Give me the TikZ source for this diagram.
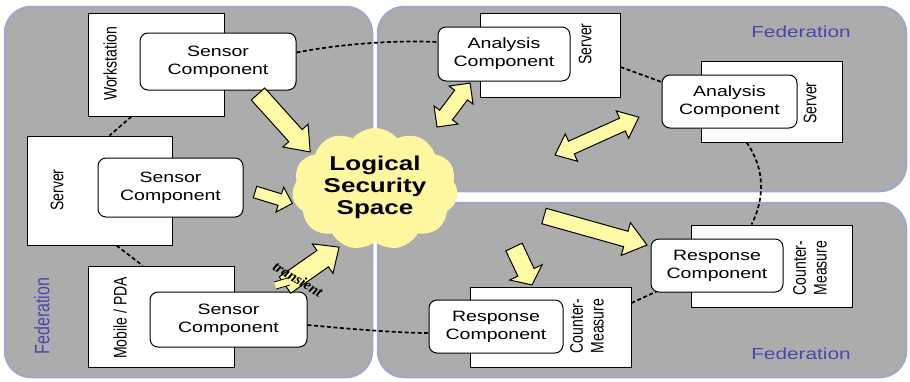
\documentclass[tikz,border=0pt]{standalone}
\usepackage{fontspec}
\setmainfont{Liberation Sans}
\newfontfamily\serifb{Liberation Serif}
\usepackage{graphicx}
\usetikzlibrary{shapes.symbols,calc}

\definecolor{panel}{RGB}{172,172,172}
\definecolor{panelrim}{RGB}{160,168,198}
\definecolor{cloudy}{RGB}{255,247,160}
\definecolor{arrowy}{RGB}{255,250,165}
\definecolor{fedblue}{RGB}{72,72,172}

\newcommand\hx[1]{\scalebox{1.3}[1]{#1}}
\newcommand\vx[1]{\scalebox{1.3}[1]{\rotatebox{90}{#1}}}
\newcommand\twol[2]{\begin{tabular}{@{}c@{}}#1\\#2\end{tabular}}

\pgfdeclarelayer{bg}
\pgfdeclarelayer{links}
\pgfsetlayers{bg,links,main}

\tikzset{
  panelbox/.style={fill=panel, draw=panelrim, line width=2.5pt, rounded corners=26pt},
  hostbox/.style={draw=black, fill=white, line width=0.9pt, inner sep=0pt},
  compbox/.style={draw=black, fill=white, line width=1pt, rounded corners=8pt, inner sep=0pt,
     font=\fontsize{15}{18}\selectfont},
  hostlabel/.style={inner sep=0pt, font=\fontsize{14}{16}\selectfont},
  fedlabel/.style={inner sep=0pt, text=fedblue, font=\fontsize{16}{18}\selectfont},
  link/.style={draw=black, line width=1.7pt, dash pattern=on 4pt off 2.5pt},
  yarrow/.style={fill=arrowy, draw=black, line width=1pt, line join=miter},
  pics/barrow/.style args={#1/#2/#3/#4}{code={
    \draw[yarrow] (0,-#3) -- ({#1-#4},-#3) -- ({#1-#4},-#2) -- (#1,0)
       -- ({#1-#4},#2) -- ({#1-#4},#3) -- (0,#3) -- cycle;}},
  pics/dbarrow/.style args={#1/#2/#3/#4}{code={
    \draw[yarrow] (0,0) -- (#4,-#2) -- (#4,-#3) -- ({#1-#4},-#3) -- ({#1-#4},-#2)
       -- (#1,0) -- ({#1-#4},#2) -- ({#1-#4},#3) -- (#4,#3) -- (#4,#2) -- cycle;}}
}

\begin{document}
\begin{tikzpicture}[x=1pt, y=-1pt]
\useasboundingbox (0,0) rectangle (910,381);

% panels
\begin{pgfonlayer}{bg}
  \fill[white] (0,0) rectangle (910,381);
  \draw[panelbox] (5,7) rectangle (372,377);
  \draw[panelbox] (378,7) rectangle (906,191);
  \draw[panelbox] (378,203) rectangle (906,377);
\end{pgfonlayer}

% hosts
\node[hostbox, minimum width=136pt, minimum height=103pt] (ws)  at (156,64.5) {};
\node[hostbox, minimum width=145pt, minimum height=109pt] (srv) at (99.5,190.5) {};
\node[hostbox, minimum width=146pt, minimum height=101pt] (mob) at (161,316.5) {};
\node[hostbox, minimum width=140pt, minimum height=84pt]  (sa1) at (550,55) {};
\node[hostbox, minimum width=141pt, minimum height=81pt]  (sa2) at (771.5,101.5) {};
\node[hostbox, minimum width=161pt, minimum height=82pt]  (cm2) at (771.5,266) {};
\node[hostbox, minimum width=161pt, minimum height=80pt]  (cm1) at (550.5,327) {};

% host labels
\node[hostlabel] (wsl)  at (110,64)  {\vx{Workstation}};
\node[hostlabel] (srvl) at (57,190)  {\vx{Server}};
\node[hostlabel] (mobl) at (120,318) {\vx{Mobile / PDA}};
\node[hostlabel] (sa1l) at (585,44)  {\vx{Server}};
\node[hostlabel] (sa2l) at (810,103) {\vx{Server}};
\node[hostlabel] (cm1l) at (589,326) {\vx{\twol{Counter-}{Measure}}};
\node[hostlabel] (cm2l) at (812,268) {\vx{\twol{Counter-}{Measure}}};

% components
\node[compbox, minimum width=156pt, minimum height=57pt] (s1) at (218,61.5)  {\hx{\twol{Sensor}{Component}}};
\node[compbox, minimum width=145pt, minimum height=59pt] (s2) at (170.5,187.5) {\hx{\twol{Sensor}{Component}}};
\node[compbox, minimum width=157pt, minimum height=55pt] (s3) at (228.5,319.5) {\hx{\twol{Sensor}{Component}}};
\node[compbox, minimum width=132pt, minimum height=54pt] (a1) at (504,54)    {\hx{\twol{Analysis}{Component}}};
\node[compbox, minimum width=135pt, minimum height=53pt] (a2) at (729.5,101.5) {\hx{\twol{Analysis}{Component}}};
\node[compbox, minimum width=132pt, minimum height=53pt] (r2) at (717,265.5) {\hx{\twol{Response}{Component}}};
\node[compbox, minimum width=134pt, minimum height=53pt] (r1) at (496,326.5) {\hx{\twol{Response}{Component}}};

% federation labels
\node[fedlabel] (f1) at (801,32)  {\hx{Federation}};
\node[fedlabel] (f2) at (801,354) {\hx{Federation}};
\node[fedlabel] (f3) at (42,316)  {\vx{Federation}};

% dashed links (underneath)
\begin{pgfonlayer}{links}
  \draw[link] ($(s1.east)+(0,-9)$) .. controls (340,44) and (395,40) .. ($(a1.west)+(0,-12)$);
  \draw[link] ($(ws.south west)+(44,0)$) -- ($(srv.north west)+(83,0)$);
  \draw[link] ($(srv.south west)+(90,0)$) -- ($(mob.north west)+(55,0)$);
  \draw[link] ($(s3.east)+(0,5.5)$) .. controls (350,329) and (400,333) .. ($(r1.west)+(0,6.5)$);
  \draw[link] ($(sa1.east)+(0,12)$) -- ($(a2.west)+(0,-19.5)$);
  \draw[link] ($(sa2.south west)+(46,0)$) .. controls (766,170) and (764,200) .. ($(cm2.north west)+(61,0)$);
  \draw[link] ($(cm1.east)+(0,-24)$) -- ($(r2.west)+(6,26)$);
\end{pgfonlayer}

% cloud
\node[cloud, cloud puffs=11, cloud puff arc=100, cloud ignores aspect,
      minimum width=166pt, minimum height=122pt, fill=cloudy, inner sep=0pt] (lss) at (375,189) {};
\node[inner sep=0pt, font=\bfseries\fontsize{20}{22}\selectfont] (lsst) at (375,188)
  {\hx{\begin{tabular}{@{}c@{}}Logical\\Security\\Space\end{tabular}}};

% block arrows
\coordinate (t1) at (258,94);
\coordinate (t2) at (255,192);
\coordinate (t3) at (285,285);
\coordinate (t4) at (437,127);
\coordinate (t5) at (555,155);
\coordinate (t6) at (544,216);
\coordinate (t7) at (514,247);
\pic[rotate=-48]   at (t1) {barrow=78/17/9/22};
\pic[rotate=-17]   at (t2) {barrow=39/13/6/13};
\pic[rotate=35]    at (t3) {barrow=66/18/10/20};
\pic[rotate=53]    at (t4) {dbarrow=55/15/8/15};
\pic[rotate=24.3]  at (t5) {dbarrow=92/15/7/18};
\pic[rotate=-15.7] at (t6) {barrow=107/17/8/22};
\pic[rotate=-64.7] at (t7) {barrow=42/18/9/14};

% transient marker
\fill[arrowy] (274,282) -- (291,277) -- (290,285) -- (276,289) -- cycle;
\draw[line width=0.8pt] (274,282) -- (291,277);
\draw[line width=0.8pt] (276,289) -- (290,285);
\node[inner sep=0pt, rotate=-31, font=\serifb\bfseries\itshape\fontsize{15}{17}\selectfont] (tr) at (298,279) {transient};
\end{tikzpicture}
\end{document}
